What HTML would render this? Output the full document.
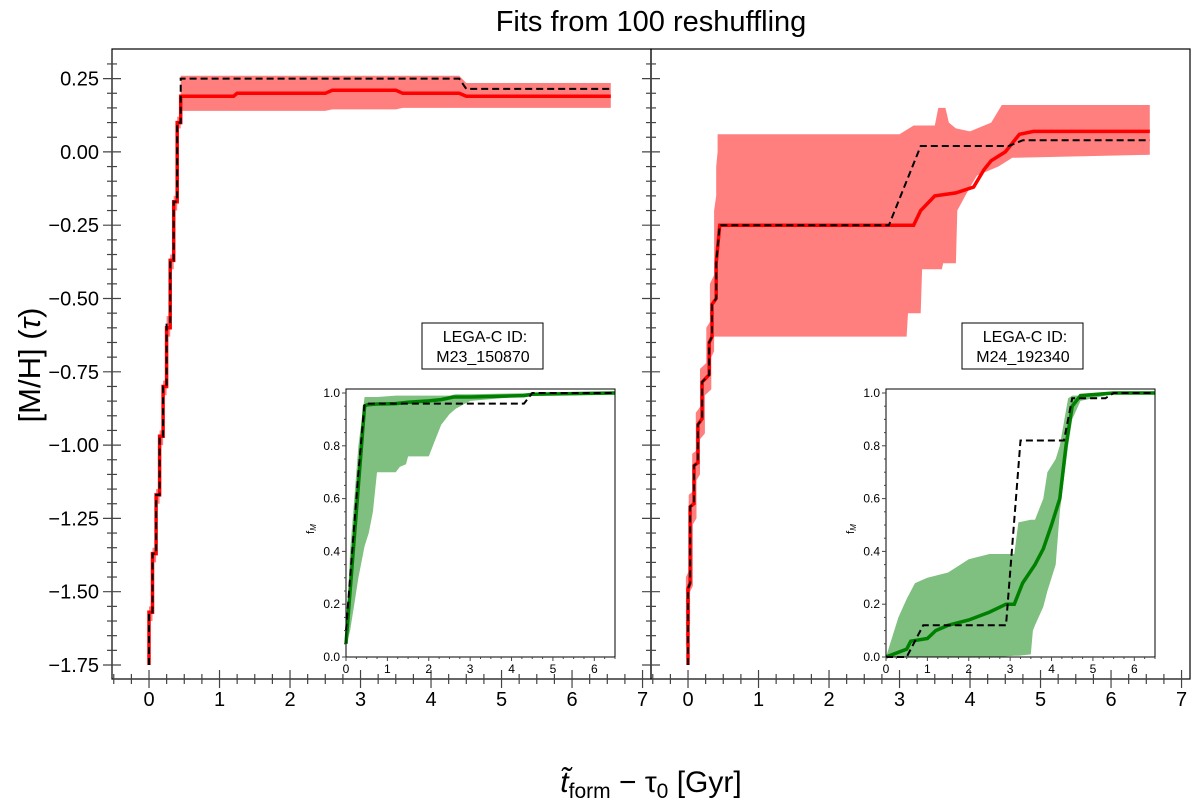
<!DOCTYPE html>
<html><head><meta charset="utf-8"><style>
body{margin:0;background:#fff;}
svg{display:block;font-family:"Liberation Sans","DejaVu Sans",sans-serif;}
</style></head><body>
<svg id="fig" width="1200" height="811" viewBox="0 0 1200 811" xmlns="http://www.w3.org/2000/svg">
<rect width="1200" height="811" fill="#fff"/>
<text x="651" y="31" font-size="29" text-anchor="middle">Fits from 100 reshuffling</text>
<text transform="translate(40,365) rotate(-90)" font-size="31" text-anchor="middle">[M/H] (<tspan font-style="italic">τ</tspan>)</text>
<text x="651" y="792" font-size="30" text-anchor="middle"><tspan font-style="italic">t̃</tspan><tspan font-size="21" dy="6">form</tspan><tspan dy="-6"> − τ</tspan><tspan font-size="21" dy="6">0</tspan><tspan dy="-6"> [Gyr]</tspan></text>
<g id="plots"></g>
</svg>
<script>
// ---- Left main panel data ----
const L_x = [0,0,0.05,0.05,0.1,0.1,0.15,0.15,0.2,0.2,0.25,0.25,0.3,0.3,0.35,0.35,0.4,0.4,0.45,0.45,1.2,1.25,2.5,2.6,3.5,3.6,4.4,4.5,6.55];
const L_med = [-1.75,-1.57,-1.57,-1.37,-1.37,-1.17,-1.17,-0.97,-0.97,-0.8,-0.8,-0.6,-0.6,-0.37,-0.37,-0.17,-0.17,0.1,0.1,0.19,0.19,0.2,0.2,0.21,0.21,0.2,0.2,0.19,0.19];
const L_true = [-1.75,-1.57,-1.57,-1.37,-1.37,-1.17,-1.17,-0.97,-0.97,-0.8,-0.8,-0.58,-0.58,-0.37,-0.37,-0.17,-0.17,0.1,0.1,0.25,0.25,0.25,0.25,0.25,0.25,0.25,0.25,0.215,0.215];
const L_hi = [-1.73,-1.55,-1.55,-1.35,-1.35,-1.15,-1.15,-0.95,-0.95,-0.78,-0.78,-0.56,-0.56,-0.35,-0.35,-0.15,-0.15,0.12,0.12,0.26,0.26,0.26,0.26,0.26,0.26,0.26,0.26,0.235,0.235];
const L_lo = [-1.77,-1.6,-1.6,-1.4,-1.4,-1.2,-1.2,-1.0,-1.0,-0.83,-0.83,-0.63,-0.63,-0.4,-0.4,-0.2,-0.2,0.08,0.08,0.14,0.14,0.14,0.14,0.145,0.145,0.15,0.15,0.15,0.15];
// ---- Right main panel data ----
const R_xm = [0,0,0.03,0.03,0.085,0.085,0.14,0.14,0.2,0.2,0.3,0.3,0.34,0.34,0.4,0.4,0.45,3.2,3.3,3.5,3.8,4.05,4.2,4.3,4.5,4.7,4.9,6.55];
const R_med = [-1.75,-1.49,-1.47,-1.21,-1.2,-1.07,-1.06,-0.93,-0.91,-0.785,-0.76,-0.65,-0.63,-0.52,-0.5,-0.38,-0.25,-0.25,-0.2,-0.15,-0.14,-0.12,-0.06,-0.03,0.0,0.06,0.07,0.07];
const R_xt = [0,0,0.03,0.03,0.085,0.085,0.14,0.14,0.2,0.2,0.3,0.3,0.34,0.34,0.4,0.4,0.45,2.85,3.3,4.55,4.75,6.55];
const R_true = [-1.75,-1.49,-1.47,-1.21,-1.2,-1.07,-1.06,-0.93,-0.91,-0.785,-0.76,-0.65,-0.63,-0.52,-0.5,-0.38,-0.25,-0.25,0.02,0.02,0.04,0.04];
const R_xb = [-0.03,-0.03,0.01,0.01,0.06,0.06,0.11,0.11,0.17,0.17,0.26,0.26,0.31,0.31,0.37,0.37,0.4,0.4,0.42,0.42,3.0,3.2,3.5,3.55,3.65,3.7,3.8,4.0,4.3,4.45,6.55];
const R_hi = [-1.68,-1.45,-1.43,-1.17,-1.16,-1.03,-1.02,-0.89,-0.87,-0.74,-0.72,-0.6,-0.58,-0.45,-0.42,-0.2,-0.15,-0.05,0.0,0.06,0.06,0.09,0.09,0.15,0.15,0.1,0.08,0.07,0.1,0.16,0.16];
const R_xl = [-0.01,0.03,0.03,0.07,0.07,0.12,0.12,0.17,0.17,0.24,0.24,0.33,0.33,0.37,0.37,3.1,3.12,3.3,3.32,3.6,3.62,3.8,3.82,4.0,4.1,4.4,4.6,6.55];
const R_lo = [-1.68,-1.6,-1.5,-1.48,-1.27,-1.25,-1.12,-1.1,-0.98,-0.96,-0.83,-0.81,-0.7,-0.68,-0.63,-0.63,-0.55,-0.55,-0.4,-0.4,-0.38,-0.38,-0.2,-0.12,-0.08,-0.05,-0.02,-0.01];
// ---- Left inset data ----
const LI_x = [0,0.1,0.3,0.45,0.5,0.7,1.2,1.5,2.0,2.3,2.6,3.0,4.3,4.5,6.5];
const LI_med = [0.05,0.25,0.65,0.95,0.955,0.958,0.96,0.965,0.97,0.975,0.985,0.985,0.99,0.995,1.0];
const LI_true = [0.1,0.3,0.7,0.96,0.96,0.96,0.96,0.96,0.96,0.96,0.96,0.96,0.96,1.0,1.0];
const LI_xb = [0,0.1,0.2,0.3,0.45,0.55,0.65,0.75,1.2,1.3,1.45,1.5,2.0,2.1,2.3,2.5,2.65,3.0,4.5,6.5];
const LI_hi = [0.05,0.4,0.6,0.8,0.985,0.985,0.985,0.985,0.99,0.99,0.99,0.99,0.99,0.99,0.99,0.99,0.995,0.995,1.0,1.0];
const LI_lo = [0.04,0.1,0.2,0.3,0.42,0.47,0.55,0.7,0.7,0.72,0.73,0.76,0.76,0.8,0.88,0.92,0.94,0.97,0.99,1.0];
// ---- Right inset data ----
const RI_xm = [0,0.5,0.6,1.0,1.2,1.5,2.0,2.5,2.9,3.1,3.3,3.6,3.8,4.0,4.2,4.35,4.5,4.7,5.5,6.5];
const RI_med = [0,0.03,0.06,0.07,0.1,0.12,0.14,0.17,0.2,0.2,0.28,0.35,0.41,0.5,0.6,0.8,0.95,0.99,1.0,1.0];
const RI_xt = [0,0.5,0.9,2.9,3.25,4.3,4.5,5.3,5.5,6.5];
const RI_true = [0,0,0.12,0.12,0.82,0.82,0.98,0.98,1.0,1.0];
const RI_xb = [0,0.1,0.3,0.5,0.7,1.0,1.5,2.0,2.5,2.7,3.1,3.2,3.5,3.55,3.6,3.8,3.9,4.1,4.2,4.4,4.5,4.7,5.3,5.5,6.5];
const RI_hi = [0,0.05,0.15,0.22,0.28,0.3,0.32,0.37,0.39,0.39,0.39,0.51,0.52,0.52,0.52,0.6,0.7,0.75,0.8,0.98,0.99,0.99,1.0,1.0,1.0];
const RI_lo = [0,0,0,0,0,0,0,0,0,0,0.005,0.005,0.01,0.1,0.12,0.19,0.25,0.35,0.55,0.8,0.9,0.97,0.99,1.0,1.0];
const mainYTicks = [0.25,0,-0.25,-0.5,-0.75,-1,-1.25,-1.5,-1.75];
const mainYLabels = ["0.25","0.00","−0.25","−0.50","−0.75","−1.00","−1.25","−1.50","−1.75"];
const mainXTicks = [0,1,2,3,4,5,6,7];
const insetYTicks = [0,0.2,0.4,0.6,0.8,1.0];
const insetYLabels = ["0.0","0.2","0.4","0.6","0.8","1.0"];
const insetXTicks = [0,1,2,3,4,5,6];

const NS="http://www.w3.org/2000/svg";
const root=document.getElementById('plots');
function el(tag,attrs,parent){const e=document.createElementNS(NS,tag);for(const k in attrs)e.setAttribute(k,attrs[k]);(parent||root).appendChild(e);return e;}
function lin(d0,d1,r0,r1){return v=>r0+(v-d0)*(r1-r0)/(d1-d0);}
function pts(xs,ys,sx,sy){return xs.map((x,i)=>sx(x).toFixed(1)+','+sy(ys[i]).toFixed(1)).join(' ');}
function band2(xh,hi,xl,lo,sx,sy){return pts(xh,hi,sx,sy)+' '+pts(xl.slice().reverse(),lo.slice().reverse(),sx,sy);}

function mainPanel(x0,x1,showY,xh,hi,xl,lo,xm,med,xt,tru,nm){
  const y0=49,y1=679;
  const sx=lin(-0.525,7.12,x0,x1), sy=lin(0.25,-1.75,78.6,665);
  const g=el('g',{});
  
  
  const b=el('polygon',{points:band2(xh,hi,xl,lo,sx,sy),fill:'#ff7f7f'},g);
  
  
  const m=el('polyline',{points:pts(xm,med,sx,sy),fill:'none',stroke:'#ff0000','stroke-width':3.5},g);
  
  
  const t=el('polyline',{points:pts(xt,tru,sx,sy),fill:'none',stroke:'#000','stroke-width':2,'stroke-dasharray':'7,4'},g);
  
  
  el('rect',{x:x0,y:y0,width:x1-x0,height:y1-y0,fill:'none',stroke:'#000','stroke-width':1.2},g);
  for(let v=0.3;v>=-1.8;v-=0.05){const vv=Math.round(v*100)/100;const y=sy(vv);if(y<y0||y>y1)continue;
    const maj=Math.abs(vv*4-Math.round(vv*4))<1e-6;const len=maj?9:5;
    el('line',{x1:x0-len,x2:x0+len,y1:y,y2:y,stroke:'#444','stroke-width':1.2},g);}
  if(showY){mainYTicks.forEach((v,i)=>{const tx=el('text',{x:x0-13,y:sy(v)+7,'font-size':20,'text-anchor':'end'},g);tx.textContent=mainYLabels[i];
    
    });}
  for(let v=-0.5;v<=7.1;v+=0.25){const x=sx(v);if(x<x0||x>x1)continue;const maj=Math.abs(v-Math.round(v))<1e-6;const len=maj?9:5;
    el('line',{x1:x,x2:x,y1:y1-len,y2:y1+len,stroke:'#444','stroke-width':1.2},g);}
  mainXTicks.forEach(v=>{const tx=el('text',{x:sx(v),y:706,'font-size':20,'text-anchor':'middle'},g);tx.textContent=String(v);
    
    });
}
function inset(x0,xb,hi,lo,xm,med,xt,tru,id,nm){
  const x1=x0+269,y0=389,y1=657;
  const sx=lin(0,6.5,x0,x1), sy=lin(0,1,y1,393);
  const g=el('g',{});
  
  
  el('rect',{x:x0,y:y0,width:269,height:y1-y0,fill:'#fff'},g);
  const b=el('polygon',{points:band2(xb,hi,xb,lo,sx,sy),fill:'#7fbf7f'},g);
  
  
  const m=el('polyline',{points:pts(xm,med,sx,sy),fill:'none',stroke:'#008000','stroke-width':3.5},g);
  
  
  const t=el('polyline',{points:pts(xt,tru,sx,sy),fill:'none',stroke:'#000','stroke-width':2,'stroke-dasharray':'7,4'},g);
  
  
  el('rect',{x:x0,y:y0,width:269,height:y1-y0,fill:'none',stroke:'#000','stroke-width':1},g);
  for(let v=0;v<=1.001;v+=0.05){const vv=Math.round(v*100)/100;const maj=Math.abs(vv*5-Math.round(vv*5))<1e-6;
    el('line',{x1:x0-(maj?4:2),x2:x0,y1:sy(vv),y2:sy(vv),stroke:'#444','stroke-width':1},g);}
  insetYTicks.forEach((v,i)=>{const tx=el('text',{x:x0-6,y:sy(v)+4,'font-size':12,'text-anchor':'end'},g);tx.textContent=insetYLabels[i];
    
    });
  for(let v=0;v<=6.5;v+=0.25){const maj=Math.abs(v-Math.round(v))<1e-6;
    el('line',{x1:sx(v),x2:sx(v),y1:y1,y2:y1+(maj?4:2),stroke:'#444','stroke-width':1},g);}
  insetXTicks.forEach(v=>{const tx=el('text',{x:sx(v),y:y1+16,'font-size':12,'text-anchor':'middle'},g);tx.textContent=String(v);
    
    });
  const yl=el('text',{transform:`translate(${x0-32},${(y0+y1)/2+6}) rotate(-90)`,'font-size':11,'text-anchor':'middle'},g);
  yl.innerHTML='f<tspan font-size="8" dy="2" font-style="italic">M</tspan>';
  
  
  const bx=x0+76;
  el('rect',{x:bx,y:323,width:121,height:46,fill:'#fff',stroke:'#000','stroke-width':1},g);
  const t1=el('text',{x:bx+63,y:342,'font-size':16,'text-anchor':'middle'},g);t1.textContent='LEGA-C ID:';
  
  
  const t2=el('text',{x:bx+61,y:362,'font-size':16,'text-anchor':'middle'},g);t2.textContent=id;
  
  
}
mainPanel(112,651,true,L_x,L_hi,L_x,L_lo,L_x,L_med,L_x,L_true,'left-panel');
mainPanel(651,1190,false,R_xb,R_hi,R_xl,R_lo,R_xm,R_med,R_xt,R_true,'right-panel');
inset(346,LI_xb,LI_hi,LI_lo,LI_x,LI_med,LI_x,LI_true,'M23_150870','left-inset');
inset(886,RI_xb,RI_hi,RI_lo,RI_xm,RI_med,RI_xt,RI_true,'M24_192340','right-inset');
</script>
</body></html>
